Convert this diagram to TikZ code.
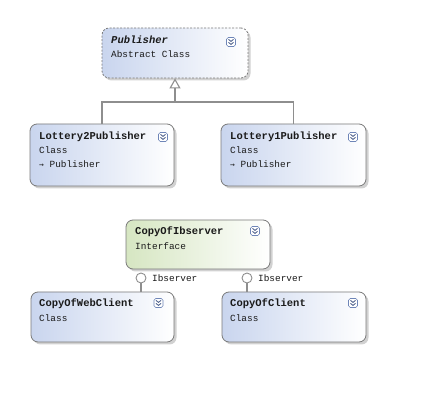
\documentclass[tikz,border=0pt]{standalone}
\usepackage{fontspec}
\newfontfamily\mono{Liberation Mono}
\newfontfamily\djv{DejaVu Sans Mono}
\usetikzlibrary{shadows,arrows.meta,calc}
\definecolor{boxblue}{HTML}{C9D5EE}
\definecolor{boxgreen}{HTML}{D6E6C2}
\definecolor{edgegray}{HTML}{7A7A7A}
\definecolor{linegray}{HTML}{8E8E8E}
\definecolor{iconblue}{HTML}{6F86B8}
\definecolor{txtc}{HTML}{1A1A1A}
\tikzset{
  classbox/.style={draw=edgegray, line width=0.8pt, rounded corners=7pt, inner sep=0pt,
    left color=boxblue, right color=white,
    drop shadow={shadow xshift=2.5pt, shadow yshift=-2.5pt, fill=black, opacity=0.18}},
  greenbox/.style={classbox, left color=boxgreen, right color=white},
  absbox/.style={classbox, dashed, dash pattern=on 2pt off 1.5pt},
  titletxt/.style={anchor=west, inner sep=0pt, text=txtc, font=\mono\bfseries\fontsize{10.5}{12}\selectfont},
  bodytxt/.style={anchor=west, inner sep=0pt, text=txtc, font=\mono\fontsize{9.4}{11}\selectfont},
  conn/.style={draw=linegray, line width=1.1pt},
  lolli/.style={circle, draw=linegray, line width=0.9pt, fill=white, minimum size=10pt, inner sep=0pt},
  collapsebtn/.pic={
    \draw[draw=iconblue, line width=0.6pt, fill=white, rounded corners=1.8pt] (-4.5,-4.5) rectangle (4.5,4.5);
    \draw[draw=iconblue!80!black, line width=0.9pt] (-2.5,-2.6) -- (0,-0.6) -- (2.5,-2.6);
    \draw[draw=iconblue!80!black, line width=0.9pt] (-2.5,0.4) -- (0,2.4) -- (2.5,0.4);
  }
}
\begin{document}
\begin{tikzpicture}[x=1pt, y=-1pt]
\useasboundingbox[fill=white] (0,0) rectangle (424,401);

% boxes
\node[absbox, minimum width=146pt, minimum height=50pt] (P) at (175,53) {};
\node[classbox, minimum width=144pt, minimum height=62pt] (L2) at (102,155) {};
\node[classbox, minimum width=145pt, minimum height=62pt] (L1) at (293.5,155) {};
\node[greenbox, minimum width=144pt, minimum height=49pt] (I) at (198,244.5) {};
\node[classbox, minimum width=143pt, minimum height=50pt] (W) at (102.5,317) {};
\node[classbox, minimum width=144pt, minimum height=50pt] (C) at (294,317) {};

% texts
\node[titletxt, font=\mono\bfseries\itshape\fontsize{10.5}{12}\selectfont] (Pt) at (111,40) {Publisher};
\node[bodytxt] (Pb) at (111,54) {Abstract Class};
\pic at (231,42) {collapsebtn};

\node[titletxt] (L2t) at (39,137) {Lottery2Publisher};
\node[bodytxt] (L2b) at (39,150) {Class};
\node[bodytxt] (L2c) at (39,164) {{\djv\fontsize{8}{10}\selectfont →} Publisher};
\pic at (163,137) {collapsebtn};

\node[titletxt] (L1t) at (230,137) {Lottery1Publisher};
\node[bodytxt] (L1b) at (230,150) {Class};
\node[bodytxt] (L1c) at (230,164) {{\djv\fontsize{8}{10}\selectfont →} Publisher};
\pic at (353,137) {collapsebtn};

\node[titletxt] (It) at (135,232) {CopyOfIbserver};
\node[bodytxt] (Ib) at (135,246) {Interface};
\pic at (255,231) {collapsebtn};

\node[titletxt] (Wt) at (39,304) {CopyOfWebClient};
\node[bodytxt] (Wb) at (39,318) {Class};
\pic at (158.5,303) {collapsebtn};

\node[titletxt] (Ct) at (230,304) {CopyOfClient};
\node[bodytxt] (Cb) at (230,318) {Class};
\pic at (353,303) {collapsebtn};

% generalization
\coordinate (J) at (P.south |- 0,102);
\draw[conn] (L2.north) |- (J) -| (L1.north);
\draw[conn, -{Triangle[open, length=10pt, width=11pt, fill=white]}] (J) -- (P.south);

% lollipops
\node[lolli] (c1) at (141,278) {};
\node[lolli] (c2) at (247,278) {};
\draw[conn] (c1.south) -- (c1.south |- W.north);
\draw[conn] (c2.south) -- (c2.south |- C.north);
\node[bodytxt] (c1l) at (152,278) {Ibserver};
\node[bodytxt] (c2l) at (258,278) {Ibserver};
\end{tikzpicture}
\end{document}
